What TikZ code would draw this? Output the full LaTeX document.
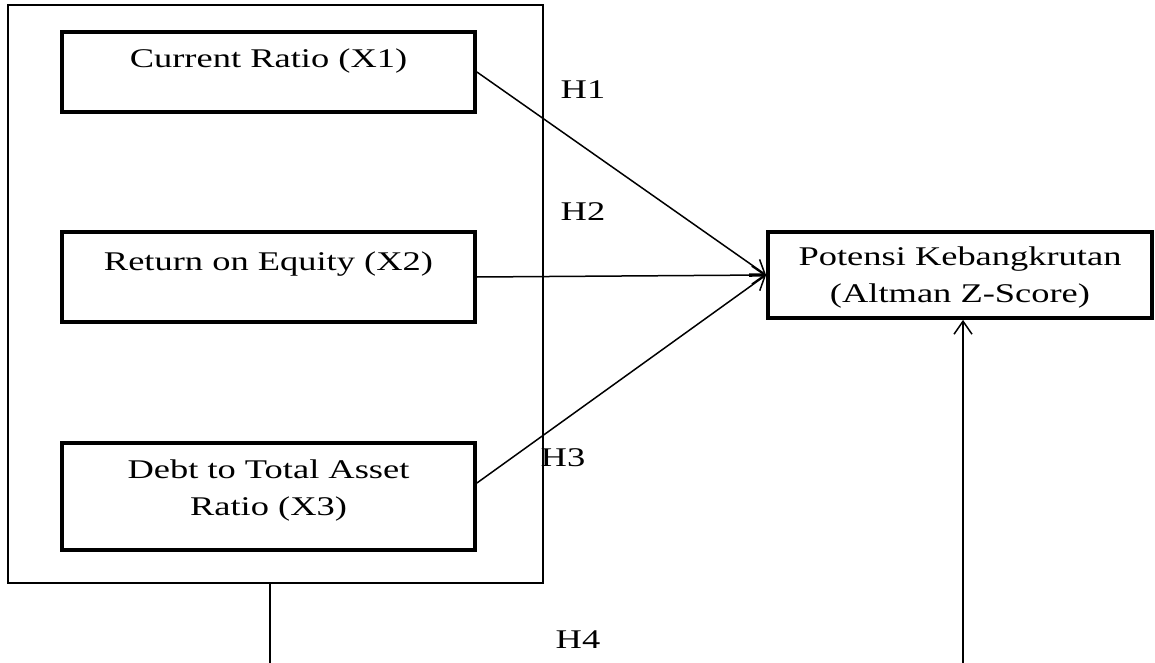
\documentclass[tikz,border=0pt]{standalone}
\usepackage{fontspec}
\setmainfont{Liberation Serif}
\usepackage{graphicx}
\usetikzlibrary{arrows.meta,fit}

% widened text, raised inside its box
\newcommand{\wtext}[2]{\raisebox{#1}[0pt][0pt]{\scalebox{1.35}[1]{\begin{tabular}{@{}c@{}}#2\end{tabular}}}}

\begin{document}
\begin{tikzpicture}[x=0.5pt,y=-0.5pt,
  font=\fontsize{13.5}{18.5}\selectfont,
  varbox/.style={draw,line width=1.9pt,minimum width=206.5pt,inner sep=0pt},
  hyp/.style={inner sep=0pt},
  link/.style={line width=0.75pt,-{Straight Barb[length=6.5pt,width=9pt]}}]
\useasboundingbox (0,0) rectangle (1155,663);

\coordinate (c1) at (8,5);
\coordinate (c2) at (543,583);
\node[fit=(c1)(c2),draw,line width=0.8pt,inner sep=0pt] (grp) {};

\node[varbox,minimum height=40pt] (cr) at (268.5,72) {\wtext{2.3pt}{Current Ratio (X1)}};
\node[varbox,minimum height=45pt] (roe) at (268.5,277) {\wtext{3.3pt}{Return on Equity (X2)}};
\node[varbox,minimum height=53.5pt] (dar) at (268.5,496.5) {\wtext{0pt}{Debt to Total Asset\\Ratio (X3)}};

\node[varbox,minimum width=192pt,minimum height=43pt] (zs) at (960,275) {\wtext{-4.2pt}{Potensi Kebangkrutan\\(Altman Z-Score)}};

\node[hyp] (h1) at (583,98) {\wtext{0pt}{H1}};
\node[hyp] (h2) at (583,220) {\wtext{0pt}{H2}};
\node[hyp] (h3) at (563,466) {\wtext{0pt}{H3}};
\node[hyp] (h4) at (578,648) {\wtext{0pt}{H4}};

\draw[link] (cr.east) -- (zs.west);
\draw[link] (roe.east) -- (zs.west);
\draw[link] ([yshift=6.75pt]dar.east) -- (zs.west);

\coordinate (s0) at (270,663);
\coordinate (s4) at (963,663);
\draw[line width=0.8pt] (grp.south -| s0) -- (s0);
\draw[link] (s4) -- (zs.south -| s4);
\end{tikzpicture}
\end{document}
